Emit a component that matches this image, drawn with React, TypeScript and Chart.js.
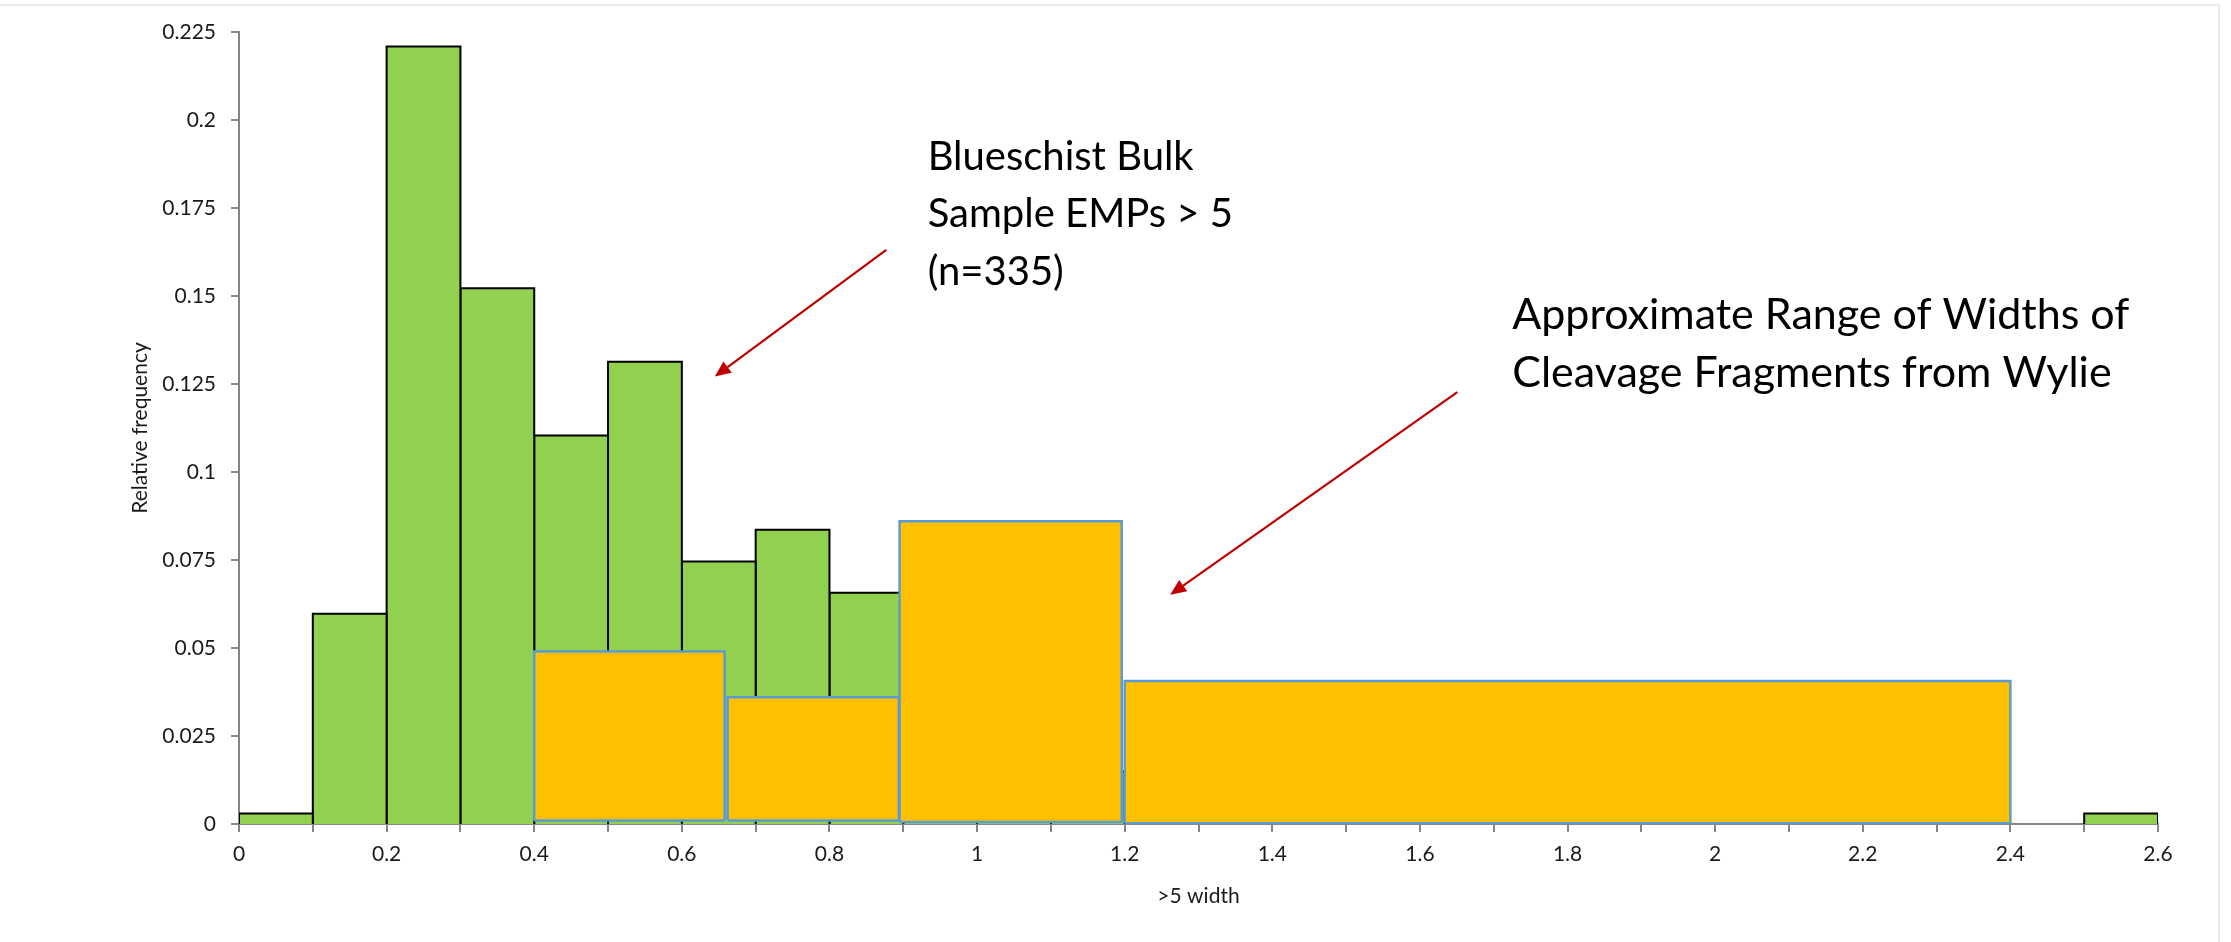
import React, { useEffect, useRef } from 'react';
import { Chart, registerables } from 'chart.js';

Chart.register(...registerables);

// ---- Data ----
// Histogram of widths of blueschist bulk-sample EMPs (bin width 0.1)
const BIN_STARTS = [0, 0.1, 0.2, 0.3, 0.4, 0.5, 0.6, 0.7, 0.8, 0.9, 1.0, 1.1, 1.2, 1.3, 1.4, 1.5, 1.6, 1.7, 1.8, 1.9, 2.0, 2.1, 2.2, 2.3, 2.4, 2.5];
const BIN_WIDTH = 0.1;
const EMP_FREQ = [0.003, 0.0597, 0.2209, 0.1522, 0.1104, 0.1313, 0.0746, 0.0836, 0.0657, 0.0358, 0.0209, 0.0149, 0.009, 0.006, 0.003, 0.003, 0, 0.003, 0, 0, 0, 0, 0, 0, 0, 0.003];

// Approximate range of widths of cleavage fragments (Wylie)
const WYLIE_START = [0.4, 0.662, 0.895, 1.2];
const WYLIE_END = [0.658, 0.894, 1.196, 2.4];
const WYLIE_FREQ = [0.049, 0.036, 0.086, 0.0406];
const WYLIE_BASE = [0.001, 0.001, 0.0006, 0.0002];

// Axis ticks
const X_LABELED_TICKS = [0, 0.2, 0.4, 0.6, 0.8, 1, 1.2, 1.4, 1.6, 1.8, 2, 2.2, 2.4, 2.6];
const Y_TICKS = [0, 0.025, 0.05, 0.075, 0.1, 0.125, 0.15, 0.175, 0.2, 0.225];

// Annotations (anchored in data coordinates)
const NOTE_1_LINES = ['Blueschist Bulk', 'Sample EMPs > 5', '(n=335)'];
const NOTE_2_LINES = ['Approximate Range of Widths of', 'Cleavage Fragments from Wylie'];
const NOTES = [
  { lines: NOTE_1_LINES, x: 0.933, y: 0.1858, size: 40 },
  { lines: NOTE_2_LINES, x: 1.725, y: 0.1406, size: 43 },
];
const ARROWS = [
  { fromX: 0.877, fromY: 0.1631, toX: 0.6446, toY: 0.1271 },
  { fromX: 1.6507, fromY: 0.1227, toX: 1.2616, toY: 0.0651 },
];

const FONT = 'Lato';
const GREEN = '#92D050';
const ORANGE = '#FFC000';
const BLUE_EDGE = '#5B9BD5';
const AXIS_GRAY = '#868686';
const ARROW_RED = '#C00000';

function fmt(v: number, digits: number) {
  return String(parseFloat(v.toFixed(digits)));
}

const annotationPlugin = {
  id: 'annotationsAndFrame',
  beforeDraw(chart: any) {
    const { ctx, width, height } = chart;
    ctx.save();
    ctx.fillStyle = '#ffffff';
    ctx.fillRect(0, 0, width, height);
    // chart-frame edges visible in the picture (top and right)
    ctx.strokeStyle = '#ececec';
    ctx.lineWidth = 2;
    ctx.beginPath();
    ctx.moveTo(0, 5);
    ctx.lineTo(width - 12, 5);
    ctx.lineTo(width - 12, height);
    ctx.stroke();
    ctx.restore();
  },
  afterDraw(chart: any) {
    const { ctx } = chart;
    const xs = chart.scales.x;
    const ys = chart.scales.y;
    ctx.save();
    // arrows
    ARROWS.forEach((a) => {
      const x1 = xs.getPixelForValue(a.fromX);
      const y1 = ys.getPixelForValue(a.fromY);
      const x2 = xs.getPixelForValue(a.toX);
      const y2 = ys.getPixelForValue(a.toY);
      const ang = Math.atan2(y2 - y1, x2 - x1);
      const headLen = 16;
      const headHalf = 7;
      const bx = x2 - headLen * Math.cos(ang);
      const by = y2 - headLen * Math.sin(ang);
      ctx.strokeStyle = ARROW_RED;
      ctx.fillStyle = ARROW_RED;
      ctx.lineWidth = 2.2;
      ctx.beginPath();
      ctx.moveTo(x1, y1);
      ctx.lineTo(bx, by);
      ctx.stroke();
      ctx.beginPath();
      ctx.moveTo(x2, y2);
      ctx.lineTo(bx + headHalf * Math.sin(ang), by - headHalf * Math.cos(ang));
      ctx.lineTo(bx - headHalf * Math.sin(ang), by + headHalf * Math.cos(ang));
      ctx.closePath();
      ctx.fill();
    });
    // text notes
    ctx.fillStyle = '#000000';
    ctx.textAlign = 'left';
    ctx.textBaseline = 'alphabetic';
    NOTES.forEach((n) => {
      ctx.font = `${n.size}px ${FONT}`;
      const x = xs.getPixelForValue(n.x);
      const y = ys.getPixelForValue(n.y);
      n.lines.forEach((line, i) => ctx.fillText(line, x, y + i * 57.5));
    });
    ctx.restore();
  },
};

function buildDatasets() {
  const sets: any[] = [];
  // Wylie ranges (drawn on top)
  WYLIE_START.forEach((s, i) => {
    const e = WYLIE_END[i];
    const t = WYLIE_FREQ[i];
    const b = WYLIE_BASE[i];
    sets.push({
      label: 'Wylie bottom ' + i,
      data: [{ x: s, y: b }, { x: e, y: b }],
      borderColor: BLUE_EDGE,
      borderWidth: 2.5,
      fill: false,
      pointRadius: 0,
      tension: 0,
      order: -1,
    });
    sets.push({
      label: 'Wylie ' + i,
      data: [{ x: s, y: b }, { x: s, y: t }, { x: e, y: t }, { x: e, y: b }],
      borderColor: BLUE_EDGE,
      borderWidth: 2.5,
      backgroundColor: ORANGE,
      fill: { value: b },
      pointRadius: 0,
      tension: 0,
      order: 0,
    });
  });
  // EMP histogram bars
  BIN_STARTS.forEach((s, i) => {
    const f = EMP_FREQ[i];
    if (!(f > 0)) return;
    const e = s + BIN_WIDTH;
    sets.push({
      label: 'EMP ' + i,
      data: [{ x: s, y: 0 }, { x: s, y: f }, { x: e, y: f }, { x: e, y: 0 }],
      borderColor: '#000000',
      borderWidth: 2,
      backgroundColor: GREEN,
      fill: 'origin',
      pointRadius: 0,
      tension: 0,
      order: 1,
    });
  });
  return sets;
}

export default function App() {
  const ref = useRef<HTMLCanvasElement>(null);

  useEffect(() => {
    document.body.style.margin = '0';
    const canvas = ref.current;
    if (!canvas) return;
    Chart.defaults.font.family = FONT;
    const chart = new Chart(canvas, {
      type: 'line',
      data: { datasets: buildDatasets() },
      options: {
        animation: false,
        responsive: false,
        events: [],
        layout: { padding: { left: 120, right: 73, top: 32, bottom: 20 } },
        plugins: {
          legend: { display: false },
          tooltip: { enabled: false },
        },
        scales: {
          x: {
            type: 'linear',
            min: 0,
            max: 2.6,
            z: 1,
            afterFit: (scale: any) => { scale.height = 98; },
            border: { display: true, color: AXIS_GRAY, width: 2 },
            grid: { display: true, drawOnChartArea: false, drawTicks: true, tickLength: 8, color: AXIS_GRAY, lineWidth: 2 },
            ticks: {
              stepSize: 0.1,
              autoSkip: false,
              maxRotation: 0,
              padding: 10,
              color: '#1a1a1a',
              font: { size: 21, family: FONT },
              callback: (v: any) => {
                const val = Number(v);
                const hit = X_LABELED_TICKS.find((t) => Math.abs(t - val) < 1e-6);
                return hit === undefined ? '' : fmt(hit, 1);
              },
            },
            title: {
              display: true,
              text: '>5 width',
              color: '#1a1a1a',
              font: { size: 21, family: FONT },
              padding: { top: 0, bottom: 13 },
            },
          },
          y: {
            type: 'linear',
            min: 0,
            max: 0.225,
            z: 1,
            afterFit: (scale: any) => { scale.width = 119; },
            border: { display: true, color: AXIS_GRAY, width: 2 },
            grid: { display: true, drawOnChartArea: false, drawTicks: true, tickLength: 8, color: AXIS_GRAY, lineWidth: 2 },
            ticks: {
              stepSize: 0.025,
              padding: 15,
              color: '#1a1a1a',
              font: { size: 21, family: FONT },
              callback: (v: any) => {
                const val = Number(v);
                const hit = Y_TICKS.find((t) => Math.abs(t - val) < 1e-7);
                return hit === undefined ? '' : fmt(hit, 3);
              },
            },
            title: {
              display: true,
              text: 'Relative frequency',
              color: '#1a1a1a',
              font: { size: 21, family: FONT },
              padding: { top: 8, bottom: 0 },
            },
          },
        },
      },
      plugins: [annotationPlugin],
    } as any);
    return () => chart.destroy();
  }, []);

  return (
    <canvas
      ref={ref}
      width={2231}
      height={942}
      style={{ display: 'block', width: '2231px', height: '942px' }}
    />
  );
}
